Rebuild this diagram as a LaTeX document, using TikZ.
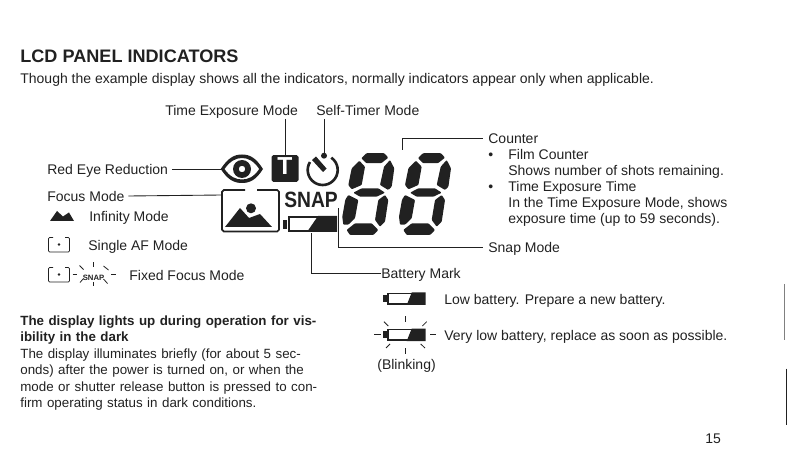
\documentclass[tikz,border=0pt]{standalone}
\usepackage{fontspec}
\setmainfont{Liberation Sans}
\definecolor{inkgray}{gray}{0.13}
\newcommand{\fullline}[1]{\hbox to 5.96cm{#1}}
\begin{document}
\begin{tikzpicture}[
      x=0.02cm, y=-0.02cm,
      every node/.style={font=\fontsize{7.97}{9}\selectfont, text=inkgray, inner sep=0pt, anchor=west, text height=5.7pt, text depth=0pt},
      heading/.style={font=\fontsize{10.3}{11}\selectfont\bfseries, text height=7.4pt},
      para/.style={text height=, text depth=, text width=5.96cm, align=left, anchor=north west, font=\fontsize{7.6}{9.2}\selectfont},
      lead/.style={draw=inkgray, line width=0.5pt},
      solid ink/.style={fill=inkgray, draw=none},
      frame/.style={draw=inkgray, rounded corners=0.6pt},
      ray/.style={draw=inkgray, line width=0.45pt}
    ]
    \useasboundingbox (0,0) rectangle (787,462);
    % Heading
    \node [heading] (title) at (20,56) {LCD PANEL INDICATORS};
    \node (intro) at (20,78) {Though the example display shows all the indicators, normally indicators appear only when applicable.};
    % Labels
    \node (timeexp) at (165,110) {Time Exposure Mode};
    \node (selftimer) at (316,110) {Self-Timer Mode};
    \node (redeye) at (47,169) {Red Eye Reduction};
    \node (focus) at (47,196) {Focus Mode};
    \node (infinity) at (89,216) {Infinity Mode};
    \node (single) at (88,245) {Single AF Mode};
    \node (fixed) at (129,275) {Fixed Focus Mode};
    \node (counter) at (488,138) {Counter};
    \node (bull1) at (488,154) {•};
    \node (film) at (508,154) {Film Counter};
    \node (shots) at (508,170) {Shows number of shots remaining.};
    \node (bull2) at (488,186) {•};
    \node (exptime) at (508,186) {Time Exposure Time};
    \node (inthe) at (508,202) {In the Time Exposure Mode, shows};
    \node (upto) at (508,218) {exposure time (up to 59 seconds).};
    \node (snapmode) at (488,247) {Snap Mode};
    \node (batmark) at (381,273) {Battery Mark};
    \node (low) at (444,299) {Low battery. Prepare a new battery.};
    \node (verylow) at (444,335) {Very low battery, replace as soon as possible.};
    \node (blink) at (377,364) {(Blinking)};
    \node (page) at (705,438) {15};
    \node [para] (lights) at (20,315.5) {\fullline{\textbf{The display lights up during operation for vis-}}
      \textbf{ibility in the dark}\\[0.5pt]
      \fullline{The display illuminates briefly (for about 5 sec-}
      \fullline{onds) after the power is turned on, or when the}
      \fullline{mode or shutter release button is pressed to con-}
      firm operating status in dark conditions.};
    % Eye
    \coordinate (eye) at (220.7,169);
    \path [solid ink, even odd rule] (220.7,169) .. controls (228,158) and (234,154.5) .. (242,154.5) .. controls (250,154.5) and (256,158) .. (263,169) .. controls (256,180) and (250,183) .. (242,183) .. controls (234,183) and (228,180) .. (220.7,169) -- cycle
      (224.5,169) .. controls (230,161) and (236,158) .. (242,158) .. controls (248,158) and (254,161) .. (259.2,169) .. controls (254,177) and (248,179.5) .. (242,179.5) .. controls (236,179.5) and (230,177) .. (224.5,169) -- cycle;
    \path [solid ink, even odd rule] (242,169) circle [radius=9] (242,169) circle [radius=3.3];
    % T box
    \node [solid ink, rounded corners=1pt, minimum size=0.54cm, anchor=center, font=\fontsize{14}{14}\selectfont\bfseries, text=white, text height=0.69em] (tbox) at (285,168.5) {T};
    % Timer
    \coordinate (timertop) at (324,153);
    \draw [draw=inkgray, line width=1.5pt] (322.7,170) ++(-55:15) arc [start angle=-55, end angle=212, radius=15];
    \path [solid ink] (324,155.7) circle [radius=3];
    \path [solid ink] (312,160) -- (316,156.5) -- (326.5,168.5) -- (323,172) -- cycle;
    % Frame with landscape
    \coordinate (framecorner) at (222,195);
    \draw [draw=inkgray, line width=1pt, rounded corners=1pt] (245,190) -- (222,190) -- (222,231.5) -- (279,231.5) -- (279,190) -- (257,190);
    \path [solid ink] (225,227) -- (240,208) -- (249,218) -- (260,214) -- (272,227) -- cycle;
    \path [solid ink] (251,208.3) circle [radius=5];
    % SNAP
    \node [font=\fontsize{12.6}{13}\selectfont\bfseries, anchor=center, xscale=0.87, text height=0.72em] (snap) at (311,201) {SNAP};
    % Battery
    \coordinate (batbase) at (311,233);
    \draw [draw=inkgray, line width=1.2pt] (289,217) rectangle (336,231);
    \path [solid ink] (283,220) rectangle (287,229);
    \path [solid ink] (307,232) -- (318,216) -- (337,216) -- (337,232) -- cycle;
    % Digits
    \foreach \digx in {368.3,425} {
      \begin{scope}[shift={(\digx,192.7)}]
        \path [solid ink, rounded corners=0.5pt] (-7,-34.5) -- (-2,-39.5) -- (16,-39.5) -- (20,-35) -- (13,-29.5) -- (-2,-29.5) -- cycle;
        \path [solid ink, rounded corners=0.5pt] (-9,-32) -- (-3.3,-26) -- (-6.6,-7.7) -- (-16.6,-3.4) -- (-20,-7.7) -- (-16.6,-24.4) -- cycle;
        \path [solid ink, rounded corners=0.5pt] (21.7,-32.7) -- (26,-24.4) -- (23.4,-6) -- (20,-2.7) -- (11.7,-7.7) -- (15.7,-26) -- cycle;
        \path [solid ink, rounded corners=0.5pt] (-15,0) -- (-6.6,-4.4) -- (10,-4.4) -- (16.7,0) -- (8.4,4) -- (-8.3,4) -- cycle;
        \path [solid ink, rounded corners=0.5pt] (-20,2.3) -- (-10,7.3) -- (-13.3,25.6) -- (-20,32) -- (-25,32) -- (-26,24) -- (-23,7) -- cycle;
        \path [solid ink, rounded corners=0.5pt] (16.7,2.3) -- (20,7.3) -- (16.7,29) -- (11.7,34) -- (6.7,27.3) -- (10,7.3) -- cycle;
        \path [solid ink, rounded corners=0.5pt] (-21.7,37.3) -- (-13.3,30.6) -- (3.4,30.6) -- (10,37.3) -- (5,42.3) -- (-18.3,42.3) -- cycle;
      \end{scope}
    }
    % Small icons on the left
    \path [solid ink] (50,221) -- (57,211) -- (63,216.5) -- (69,212.5) -- (74,221) -- cycle;
    \draw [frame] (53,237.5) -- (48.5,237.5) -- (48.5,252) -- (69.5,252) -- (69.5,237.5) -- (65,237.5);
    \path [solid ink] (59,244.5) circle [radius=1.3];
    \draw [frame] (53,267.5) -- (48.5,267.5) -- (48.5,282) -- (69.5,282) -- (69.5,267.5) -- (65,267.5);
    \path [solid ink] (59,274.5) circle [radius=1.3];
    \node [font=\fontsize{4.4}{5}\selectfont\bfseries, anchor=center, text height=0.72em] (smallsnap) at (93.5,274.5) {SNAP};
    \foreach \rayax/\rayay/\raybx/\rayby in {-21/0/-16.5/0, 17.5/0/22/0, 0/-12/0/-7, 0/7.5/0/12, -14/-9/-10/-5, 10/-8.5/15/-4.5, -13.5/8/-10/4, 10/4.5/14/9} {
      \draw [ray] (93.5+\rayax,274.5+\rayay) -- (93.5+\raybx,274.5+\rayby);
    }
    % Batteries on the right
    \foreach \baty/\batname in {292/lowbat,328/vlowbat} {
      \begin{scope}[shift={(0,\baty)}]
        \draw [draw=inkgray, line width=1.1pt] (388,1.5) rectangle (412,12);
        \path [solid ink] (383.3,3) rectangle (386.7,9.7);
        \path [solid ink] (406.7,13) -- (411.7,0.5) -- (425.7,0.5) -- (425.7,13) -- cycle;
      \end{scope}
    }
    \foreach \rayax/\rayay/\raybx/\rayby in {374/334.5/380.7/334.5, 430/334.5/436/334.5, 405/316/405/321.7, 405/348/405/354, 384/321.7/388.3/326, 426.7/321.7/422.3/326, 390/344/386/348, 420.7/344/425/348} {
      \draw [ray] (\rayax,\rayay) -- (\raybx,\rayby);
    }
    % Lines
    \path [lead] ([xshift=2pt]redeye.east) -- (eye);
    \path [lead] ([xshift=2pt]focus.east) -- (framecorner);
    \path [lead] (285,119) -- (tbox.north);
    \path [lead] (324,119) -- (timertop);
    \path [lead] ([xshift=-3pt]counter.west) -| (402.7,150);
    \path [lead] ([xshift=-3pt]snapmode.west) -| (338.3,208);
    \path [lead] (batmark.west) -| (batbase);
    % Edge marks of the scan
    \path [draw=gray, line width=0.5pt] (784.3,284) -- (784.3,340);
    \path [lead] (786.3,368.7) -- (786.3,425);
  \end{tikzpicture}
\end{document}
